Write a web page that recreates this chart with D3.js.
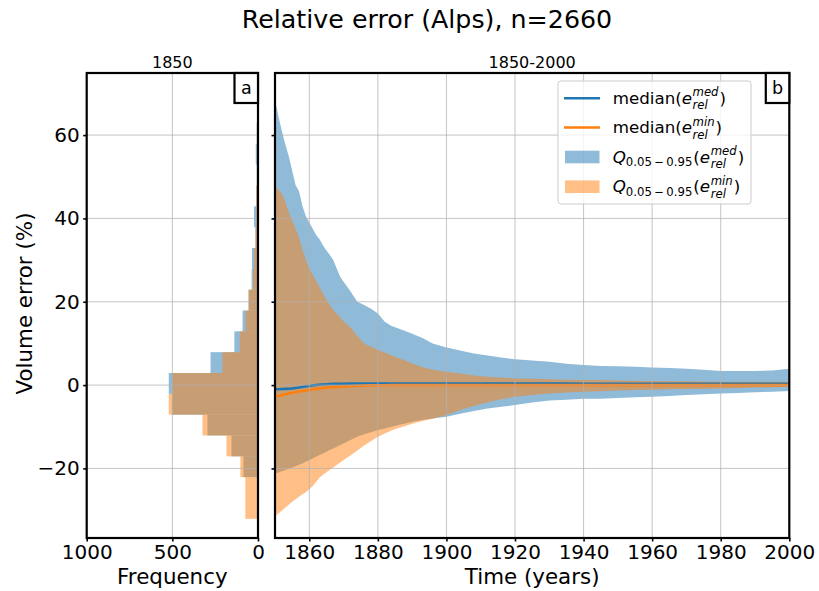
<!DOCTYPE html>
<html><head><meta charset="utf-8">
<script src="https://cdn.jsdelivr.net/npm/d3@7"></script>
<style>body{margin:0;background:#fff} svg{display:block} text{font-family:"DejaVu Sans",sans-serif;fill:#000}</style>
</head><body><svg id="chart" width="819" height="591"></svg>
<script>
// ---- data ----
const histBinEdges = [-32.1, -27.1, -22.1, -17.1, -12.1, -7.1, -2.1, 2.9, 7.9, 12.9, 17.9, 22.9, 27.9, 32.9, 37.9, 42.9, 47.9, 52.9, 57.9, 62.9];
const histCountsMed = [0, 0, 85, 155, 295, 502, 521, 277, 138, 90, 55, 37, 35, 15, 23, 10, 8, 13, 8];
const histCountsMin = [74, 74, 103, 184, 324, 521, 502, 208, 107, 72, 55, 29, 23, 15, 10, 10, 0, 0, 0];

const years = [1850,1851,1852,1853,1854,1855,1856,1857,1858,1859,1860,1861,1862,1863,1864,1865,1866,1867,1868,1869,1870,1872,1874,1876,1878,1880,1882,1884,1886,1888,1890,1893,1896,1900,1904,1908,1912,1916,1920,1925,1930,1935,1940,1945,1950,1955,1960,1965,1970,1975,1980,1985,1990,1995,2000];
const medQ95 = [68.5,64.5,61.0,57.8,55.0,51.5,48.0,46.5,43.0,40.5,39.0,37.5,36.0,35.0,33.5,32.3,31.2,30.0,28.0,26.0,24.8,22.5,20.0,19.2,18.3,17.2,15.2,14.2,13.6,13.0,12.3,11.3,10.0,9.0,8.3,7.6,7.1,6.6,6.2,5.9,5.6,5.1,4.8,4.6,4.5,4.4,4.2,4.1,3.9,3.7,3.4,3.4,3.4,3.5,3.9];
const medQ05 = [-21.3,-21.0,-20.7,-20.4,-20.1,-19.8,-19.5,-19.1,-18.8,-18.4,-18.0,-17.6,-17.2,-16.8,-16.4,-16.0,-15.6,-15.2,-14.8,-14.4,-14.0,-13.2,-12.4,-11.8,-11.3,-10.8,-10.4,-10.0,-9.6,-9.2,-8.8,-8.4,-8.0,-7.6,-6.9,-6.2,-5.6,-5.2,-4.8,-4.2,-3.7,-3.5,-3.3,-3.3,-3.1,-2.9,-2.8,-2.6,-2.4,-2.2,-2.0,-1.9,-1.7,-1.6,-1.4];
const minQ95 = [47.8,46.8,46.0,44.0,41.5,39.5,37.5,35.5,32.5,30.0,28.0,26.5,25.0,23.5,22.0,20.5,19.2,18.0,17.2,16.2,15.3,13.8,11.8,10.0,9.2,8.4,7.8,7.1,6.5,5.9,5.2,4.3,3.7,3.2,2.8,2.3,2.0,1.8,1.6,1.5,1.4,1.3,1.2,1.2,1.1,1.05,1.0,0.95,0.9,0.85,0.8,0.8,0.8,0.8,0.8];
const minQ05 = [-31.5,-30.8,-30.1,-29.4,-28.7,-28.0,-27.4,-26.8,-26.2,-25.7,-25.0,-24.2,-23.2,-22.2,-21.5,-20.9,-20.3,-19.8,-19.2,-18.6,-18.0,-16.9,-15.7,-14.5,-13.4,-12.4,-11.6,-10.9,-10.3,-9.8,-9.3,-8.6,-8.1,-7.2,-6.0,-5.0,-4.1,-3.4,-2.8,-2.4,-2.0,-1.8,-1.6,-1.45,-1.3,-1.2,-1.1,-1.0,-0.95,-0.85,-0.8,-0.7,-0.6,-0.5,-0.4];
const medMedian = [-1.0,-1.0,-0.95,-0.9,-0.9,-0.8,-0.7,-0.6,-0.45,-0.3,-0.2,-0.1,0.0,0.1,0.15,0.2,0.25,0.28,0.3,0.3,0.32,0.34,0.35,0.35,0.35,0.35,0.35,0.35,0.35,0.35,0.35,0.35,0.35,0.35,0.35,0.35,0.35,0.35,0.35,0.35,0.34,0.34,0.33,0.33,0.32,0.32,0.31,0.31,0.3,0.3,0.3,0.3,0.3,0.3,0.3];
const minMedian = [-2.8,-2.6,-2.4,-2.2,-2.0,-1.85,-1.7,-1.55,-1.4,-1.3,-1.2,-1.05,-0.9,-0.8,-0.7,-0.6,-0.55,-0.5,-0.42,-0.36,-0.3,-0.22,-0.16,-0.12,-0.08,-0.05,-0.03,-0.02,-0.01,0.0,0.0,0.0,0.0,0.0,0.0,0.0,0.0,0.0,0.0,0.0,0.0,0.0,0.0,0.0,0.0,0.0,0.0,0.0,0.0,0.0,0.0,0.0,0.0,0.0,0.0];

const yTicks = [-20, 0, 20, 40, 60];
const freqTicks = [1000, 500, 0];
const timeTicks = [1860, 1880, 1900, 1920, 1940, 1960, 1980, 2000];

const titleText = "Relative error (Alps), n=2660";
const panelTitles = ["1850", "1850-2000"];
const panelLetters = ["a", "b"];

// ---- layout ----
const BLUE = "#1f77b4", ORANGE = "#ff7f0e";
const TOP = 73, BOT = 538;
const TICK_FS = 20, LABEL_FS = 21.4;
const svg = d3.select("#chart");
const y = d3.scaleLinear().domain([-36.7, 74.9]).range([BOT, TOP]);
const xH = d3.scaleLinear().domain([1000, 0]).range([86.7, 258]);
const xT = d3.scaleLinear().domain([1850, 2000]).range([275, 789.3]);
const fmt = d => d < 0 ? "\u2212" + Math.abs(d) : String(d);

const defs = svg.append("defs");
defs.append("clipPath").attr("id", "clipA").append("rect")
  .attr("x", xH.range()[0]).attr("y", TOP).attr("width", xH.range()[1] - xH.range()[0]).attr("height", BOT - TOP);
defs.append("clipPath").attr("id", "clipB").append("rect")
  .attr("x", xT.range()[0]).attr("y", TOP).attr("width", xT.range()[1] - xT.range()[0]).attr("height", BOT - TOP);

// ---- panel a: histogram ----
const gA = svg.append("g").attr("clip-path", "url(#clipA)");
function drawHist(counts, color) {
  gA.append("g").selectAll("rect").data(counts).join("rect")
    .attr("x", d => xH(d))
    .attr("width", d => xH(0) - xH(d))
    .attr("y", (d, i) => y(histBinEdges[i + 1]))
    .attr("height", (d, i) => y(histBinEdges[i]) - y(histBinEdges[i + 1]))
    .attr("fill", color).attr("fill-opacity", 0.5);
}
drawHist(histCountsMed, BLUE);
drawHist(histCountsMin, ORANGE);

// ---- panel b: bands ----
const gB = svg.append("g").attr("clip-path", "url(#clipB)");
const idx = d3.range(years.length);
function band(lo, hi, color) {
  const area = d3.area().x(i => xT(years[i])).y0(i => y(lo[i])).y1(i => y(hi[i]));
  gB.append("path").datum(idx).attr("d", area).attr("fill", color).attr("fill-opacity", 0.5);
}
band(medQ05, medQ95, BLUE);
band(minQ05, minQ95, ORANGE);

// ---- grids ----
const gridC = "#b0b0b0";
function vgrid(scale, vals) {
  svg.append("g").selectAll("line").data(vals).join("line")
    .attr("x1", d => scale(d)).attr("x2", d => scale(d)).attr("y1", TOP).attr("y2", BOT)
    .attr("stroke", gridC).attr("stroke-width", 1).attr("stroke-opacity", 0.75);
}
function hgrid(scale) {
  svg.append("g").selectAll("line").data(yTicks).join("line")
    .attr("x1", scale.range()[0]).attr("x2", scale.range()[1]).attr("y1", d => y(d)).attr("y2", d => y(d))
    .attr("stroke", gridC).attr("stroke-width", 1).attr("stroke-opacity", 0.75);
}
vgrid(xH, freqTicks); hgrid(xH);
vgrid(xT, timeTicks); hgrid(xT);

// ---- median lines ----
function mline(vals, color) {
  const line = d3.line().x(i => xT(years[i])).y(i => y(vals[i]));
  gB.append("path").datum(idx).attr("d", line).attr("fill", "none")
    .attr("stroke", color).attr("stroke-width", 2.6).attr("stroke-linejoin", "round");
}
mline(medMedian, BLUE);
mline(minMedian, ORANGE);

// ---- axes ----
function styleAxis(g) {
  g.select(".domain").remove();
  g.selectAll(".tick line").attr("stroke", "#000").attr("stroke-width", 1.6);
  g.selectAll(".tick text").attr("font-size", TICK_FS).attr("font-family", "DejaVu Sans, sans-serif").attr("fill", "#000");
}
svg.append("g").attr("transform", `translate(${xH.range()[0]},0)`)
  .call(d3.axisLeft(y).tickValues(yTicks).tickSize(3.5).tickPadding(3.5).tickFormat(fmt)).call(styleAxis);
svg.append("g").attr("transform", `translate(${xT.range()[0]},0)`)
  .call(d3.axisLeft(y).tickValues(yTicks).tickSize(3.5).tickFormat("")).call(styleAxis);
svg.append("g").attr("transform", `translate(0,${BOT})`)
  .call(d3.axisBottom(xH).tickValues(freqTicks).tickSize(3.5).tickPadding(3.5).tickFormat(fmt)).call(styleAxis);
svg.append("g").attr("transform", `translate(0,${BOT})`)
  .call(d3.axisBottom(xT).tickValues(timeTicks).tickSize(3.5).tickPadding(3.5).tickFormat(d3.format("d"))).call(styleAxis);

// ---- frames ----
[[xH, panelLetters[0]], [xT, panelLetters[1]]].forEach(([sc, letter]) => {
  const [x0, x1] = sc.range();
  svg.append("rect").attr("x", x0).attr("y", TOP).attr("width", x1 - x0).attr("height", BOT - TOP)
    .attr("fill", "none").attr("stroke", "#000").attr("stroke-width", 2.2);
  svg.append("rect").attr("x", x1 - 23.5).attr("y", TOP).attr("width", 23.5).attr("height", 30)
    .attr("fill", "#fff").attr("stroke", "#000").attr("stroke-width", 2.2);
  svg.append("text").attr("x", x1 - 11.75).attr("y", 93.5).attr("text-anchor", "middle")
    .attr("font-size", 17.5).text(letter);
});

// ---- titles / labels ----
svg.append("text").attr("x", 427).attr("y", 28).attr("text-anchor", "middle").attr("font-size", 25.3).text(titleText);
svg.append("text").attr("x", d3.mean(xH.range())).attr("y", 67.5).attr("text-anchor", "middle").attr("font-size", 16).text(panelTitles[0]);
svg.append("text").attr("x", d3.mean(xT.range())).attr("y", 67.5).attr("text-anchor", "middle").attr("font-size", 16).text(panelTitles[1]);
svg.append("text").attr("x", d3.mean(xH.range())).attr("y", 584).attr("text-anchor", "middle").attr("font-size", LABEL_FS).text("Frequency");
svg.append("text").attr("x", d3.mean(xT.range())).attr("y", 584).attr("text-anchor", "middle").attr("font-size", LABEL_FS).text("Time (years)");
svg.append("text").attr("transform", `translate(32,${(TOP + BOT) / 2 - 2}) rotate(-90)`).attr("text-anchor", "middle")
  .attr("font-size", LABEL_FS).text("Volume error (%)");

// ---- legend ----
const lg = svg.append("g");
lg.append("rect").attr("x", 558).attr("y", 81).attr("width", 193).attr("height", 123).attr("rx", 3)
  .attr("fill", "#fff").attr("fill-opacity", 0.8).attr("stroke", "#cccccc").attr("stroke-width", 1);
const LFS = 16.7, SFS = 11.7;
function piece(x, yb, str, size, italic) {
  const t = lg.append("text").attr("x", x).attr("y", yb).attr("font-size", size).text(str);
  if (italic) t.attr("font-style", "italic");
  return t.node().getComputedTextLength();
}
function mathLabel(x, yb, parts) {
  parts.forEach(p => {
    if (p.sup !== undefined) {
      const a = piece(x + 0.5, yb - 7.5, p.sup, SFS, true);
      const b = piece(x + 0.5, yb + 5.5, p.sub, SFS, true);
      x += Math.max(a, b) + 1.5;
    } else if (p.sub !== undefined) {
      x += piece(x, yb + 3.5, p.sub, SFS, false) + 1;
    } else {
      x += piece(x, yb, p.t, LFS, p.i);
    }
  });
}
const legendItems = [
  { kind: "line", color: BLUE, parts: [{ t: "median(" }, { t: "e", i: true }, { sup: "med", sub: "rel" }, { t: ")" }] },
  { kind: "line", color: ORANGE, parts: [{ t: "median(" }, { t: "e", i: true }, { sup: "min", sub: "rel" }, { t: ")" }] },
  { kind: "patch", color: BLUE, parts: [{ t: "Q", i: true }, { sub: "0.05\u2009\u2212\u20090.95" }, { t: "(" }, { t: "e", i: true }, { sup: "med", sub: "rel" }, { t: ")" }] },
  { kind: "patch", color: ORANGE, parts: [{ t: "Q", i: true }, { sub: "0.05\u2009\u2212\u20090.95" }, { t: "(" }, { t: "e", i: true }, { sup: "min", sub: "rel" }, { t: ")" }] }
];
const rowY = [98.3, 127.5, 157, 186.7];
legendItems.forEach((it, k) => {
  const cy = rowY[k];
  if (it.kind === "line") {
    lg.append("line").attr("x1", 564).attr("x2", 600).attr("y1", cy).attr("y2", cy)
      .attr("stroke", it.color).attr("stroke-width", 2.6);
  } else {
    lg.append("rect").attr("x", 565).attr("y", cy - 6.3).attr("width", 34.5).attr("height", 12.6)
      .attr("fill", it.color).attr("fill-opacity", 0.5);
  }
  mathLabel(612.7, cy + 5.6, it.parts);
});
</script></body></html>
